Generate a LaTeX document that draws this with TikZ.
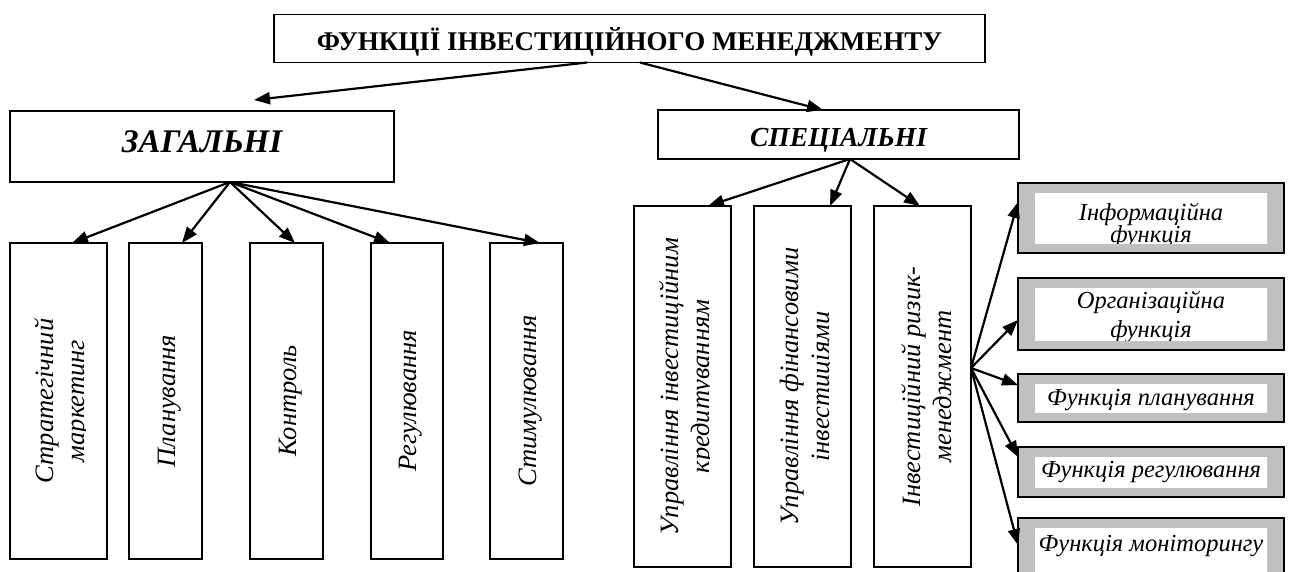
\documentclass[tikz,border=0pt]{standalone}
\usepackage{fontspec}
\setmainfont{Liberation Serif}
\usetikzlibrary{arrows.meta}
\definecolor{framegray}{RGB}{192,192,192}

\begin{document}
\begin{tikzpicture}[x=1pt,y=-1pt,
  box/.style={draw, line width=1.6pt, inner sep=0pt, outer sep=0pt},
  vbox/.style={box, minimum width=#1},
  graybox/.style={box, fill=framegray, minimum width=266pt},
  vtext/.style={rotate=90, align=center, inner sep=0pt,
                font=\itshape\fontsize{26.5}{31}\selectfont},
  gtext/.style={anchor=base, inner sep=0pt,
                font=\itshape\fontsize{24.5}{29}\selectfont},
  arr/.style={line width=2.2pt, -{Triangle[length=16pt,width=12pt]}}
]
\useasboundingbox (0,0) rectangle (1289,571);
\fill[white] (0,0) rectangle (1289,571);
\clip (0,0) rectangle (1289,571);

% white text frame inside a grey box
\newcommand{\innerframe}[1]{%
  \clip ([xshift=17pt,yshift=-10.5pt]#1.north west) rectangle
        ([xshift=-17pt,yshift=9.5pt]#1.south east);
  \fill[white] (#1.south west) rectangle (#1.north east);}

% ---- top level ----
\node[box, minimum width=711pt, minimum height=48pt,
      text height=30pt, text depth=6.6pt,
      font=\bfseries\fontsize{27}{30}\selectfont]
  (title) at (629.5,38.5) {ФУНКЦІЇ ІНВЕСТИЦІЙНОГО МЕНЕДЖМЕНТУ};

\node[box, minimum width=384pt, minimum height=71pt,
      text height=33pt, text depth=22pt,
      font=\bfseries\itshape\fontsize{33}{36}\selectfont]
  (zag) at (202,146.5) {ЗАГАЛЬНІ};

\node[box, minimum width=361pt, minimum height=49pt,
      text height=31pt, text depth=6.5pt,
      font=\bfseries\itshape\fontsize{27.5}{30}\selectfont]
  (spec) at (838.5,134.5) {СПЕЦІАЛЬНІ};

\coordinate (zagin) at (254,100);

% ---- general functions ----
\node[vbox=97pt, minimum height=316pt] (b1) at (58.5,401) {};
\node[vbox=73pt, minimum height=316pt] (b2) at (165.5,401) {};
\node[vbox=73pt, minimum height=316pt] (b3) at (286.5,401) {};
\node[vbox=72pt, minimum height=316pt] (b4) at (407,401) {};
\node[vbox=73pt, minimum height=316pt] (b5) at (526.5,401) {};

\begin{scope}
  \clip (b1.north west) rectangle ([xshift=26.5pt]b1.south);
  \node[vtext] at ([xshift=4pt]b1.center) {Стратегічний\\маркетинг};
\end{scope}
\node[vtext] at ([xshift=4pt]b2.center) {Планування};
\node[vtext] at ([xshift=4pt]b3.center) {Контроль};
\node[vtext] at ([xshift=4pt]b4.center) {Регулювання};
\node[vtext] at ([xshift=4pt]b5.center) {Стимулювання};

% ---- special functions ----
\node[vbox=97pt, minimum height=361pt] (ba) at (682.5,386.5) {};
\node[vbox=97pt, minimum height=361pt] (bb) at (802.5,386.5) {};
\node[vbox=97pt, minimum height=361pt] (bc) at (922.5,386.5) {};

\begin{scope}
  \clip (ba.north west) rectangle ([xshift=26.5pt]ba.south);
  \node[vtext] at ([xshift=4.5pt]ba.center) {Управління інвестиційним\\кредитуванням};
\end{scope}
\begin{scope}
  \clip (bb.north west) rectangle ([xshift=26.5pt]bb.south);
  \node[vtext] at ([xshift=4.5pt]bb.center) {Управління фінансовими\\інвестиціями};
\end{scope}
\node[vtext] at ([xshift=4.5pt]bc.center) {Інвестиційний ризик-\\менеджмент};

% ---- risk management functions ----
\node[graybox, minimum height=70pt] (inf)  at (1151,218) {};
\node[graybox, minimum height=72pt] (org)  at (1151,314) {};
\node[graybox, minimum height=48pt] (plan) at (1151,398) {};
\node[graybox, minimum height=50pt] (reg)  at (1151,472) {};
\node[graybox, minimum height=62pt] (mon)  at (1151,549) {};

\begin{scope}
  \innerframe{inf}
  \node[gtext] at ([yshift=-37pt]inf.north) {Інформаційна};
  \node[gtext] at ([yshift=-59pt]inf.north) {функція};
\end{scope}
\begin{scope}
  \innerframe{org}
  \node[gtext] at ([yshift=-30pt]org.north) {Організаційна};
  \node[gtext] at ([yshift=-59pt]org.north) {функція};
\end{scope}
\begin{scope}
  \innerframe{plan}
  \node[gtext] at ([yshift=-31pt]plan.north) {Функція планування};
\end{scope}
\begin{scope}
  \innerframe{reg}
  \node[gtext] at ([yshift=-30.5pt]reg.north) {Функція регулювання};
\end{scope}
\begin{scope}
  \clip ([xshift=17pt,yshift=-10.5pt]mon.north west) rectangle
        ([xshift=-17pt,yshift=0pt]mon.south east);
  \fill[white] (mon.south west) rectangle (mon.north east);
  \node[gtext] at ([yshift=-33pt]mon.north) {Функція моніторингу};
\end{scope}

% ---- connectors ----
\draw[arr] (title.south -| 587,0) -- (zagin);
\draw[arr] (title.south -| 640,0) -- (spec.north -| 823,0);

\draw[arr] (zag.south -| 230,0) -- (b1.north -| 72,0);
\draw[arr] (zag.south -| 230,0) -- (b2.north -| 182,0);
\draw[arr] (zag.south -| 230,0) -- (b3.north -| 295,0);
\draw[arr] (zag.south -| 230,0) -- (b4.north -| 390,0);
\draw[arr] (zag.south -| 230,0) -- (b5.north -| 540,0);

\draw[arr] (spec.south -| 850,0) -- (ba.north -| 708,0);
\draw[arr] (spec.south -| 850,0) -- (bb.north -| 830,0);
\draw[arr] (spec.south -| 850,0) -- (bc.north -| 920,0);

\draw[arr] (bc.east |- 0,368) -- (inf.west |- 0,202);
\draw[arr] (bc.east |- 0,368) -- (org.west |- 0,320);
\draw[arr] (bc.east |- 0,368) -- (plan.west |- 0,385);
\draw[arr] (bc.east |- 0,368) -- (reg.west |- 0,457);
\draw[arr] (bc.east |- 0,368) -- (mon.west |- 0,545);
\end{tikzpicture}
\end{document}
